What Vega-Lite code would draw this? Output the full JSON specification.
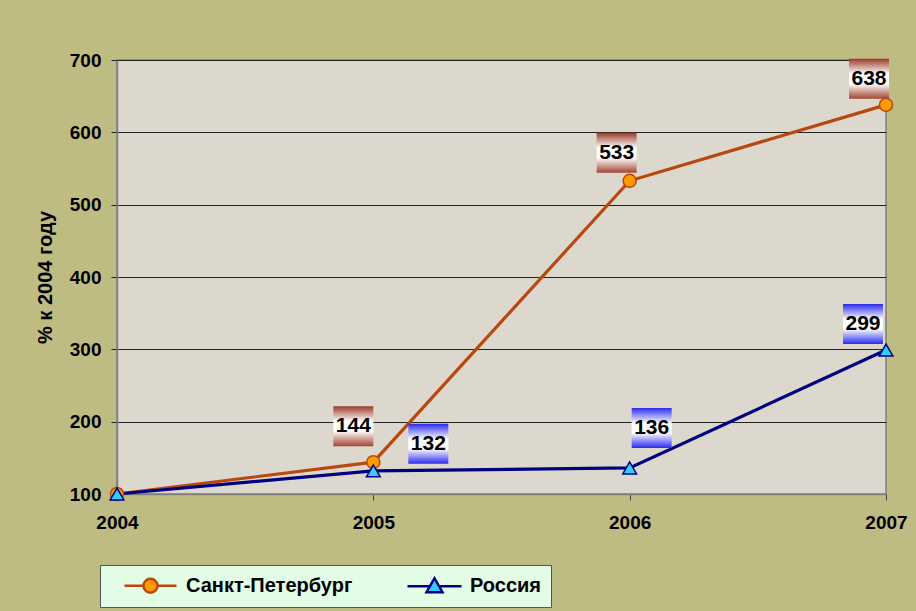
{
  "$schema": "https://vega.github.io/schema/vega-lite/v6.json",
  "width": 769,
  "height": 434,
  "autosize": {"type": "none"},
  "padding": {"left": 117, "top": 60, "right": 30, "bottom": 117},
  "background": "#bfbc83",
  "config": {
    "font": "Liberation Sans",
    "view": {"fill": "#ddd8cd", "stroke": "#7f7f7f", "strokeWidth": 1.5},
    "legend": {
      "orient": "none",
      "legendX": -17,
      "legendY": 505,
      "direction": "horizontal",
      "symbolSize": 400,
      "symbolOffset": 30,
      "labelOffset": 24,
      "labelFontSize": 20,
      "labelFontWeight": "bold",
      "labelColor": "#000000",
      "labelLimit": 400,
      "columnPadding": 40,
      "padding": 9,
      "fillColor": "#e2fce5",
      "strokeColor": "#555555",
      "symbolStrokeWidth": 2.5
    }
  },
  "data": {
    "values": [
      {"series": "Санкт-Петербург", "year": 2004, "value": 100},
      {"series": "Санкт-Петербург", "year": 2005, "value": 144},
      {"series": "Санкт-Петербург", "year": 2006, "value": 533},
      {"series": "Санкт-Петербург", "year": 2007, "value": 638},
      {"series": "Россия", "year": 2004, "value": 100},
      {"series": "Россия", "year": 2005, "value": 132},
      {"series": "Россия", "year": 2006, "value": 136},
      {"series": "Россия", "year": 2007, "value": 299}
    ]
  },
  "encoding": {
    "x": {
      "field": "year",
      "type": "quantitative",
      "scale": {"domain": [2004, 2007], "nice": false, "zero": false},
      "axis": {
        "values": [2004, 2005, 2006, 2007],
        "format": "d",
        "title": null,
        "grid": false,
        "labelFlush": false,
        "labelFontSize": 19,
        "labelFontWeight": "bold",
        "labelColor": "#000000",
        "labelPadding": 13,
        "tickSize": 6,
        "tickColor": "#444444",
        "domainColor": "#7f7f7f",
        "domainWidth": 1.5
      }
    },
    "y": {
      "field": "value",
      "type": "quantitative",
      "scale": {"domain": [100, 700], "nice": false, "zero": false},
      "axis": {
        "values": [100, 200, 300, 400, 500, 600, 700],
        "title": "% к 2004 году",
        "titleFontSize": 20,
        "titleFontWeight": "bold",
        "titleColor": "#000000",
        "titlePadding": 14,
        "labelFontSize": 19,
        "labelFontWeight": "bold",
        "labelColor": "#000000",
        "labelPadding": 10,
        "tickSize": 6,
        "tickColor": "#222222",
        "gridColor": "#222222",
        "gridWidth": 1,
        "gridOpacity": 1,
        "domainColor": "#7f7f7f",
        "domainWidth": 1.5
      }
    }
  },
  "layer": [
    {
      "mark": {"type": "line", "strokeWidth": 3.2},
      "encoding": {
        "stroke": {
          "field": "series",
          "type": "nominal",
          "scale": {"domain": ["Санкт-Петербург", "Россия"], "range": ["#b8480f", "#000080"]},
          "legend": {"title": null, "symbolType": {"expr": "datum.value === 'Россия' ? 'M-2.7,0H-0.45M0.45,0H2.7M0,-0.8L0.8,0.6L-0.8,0.6Z' : 'M-2.6,0H-0.7M0.7,0H2.6M-0.7,0A0.7,0.7,0,1,0,0.7,0A0.7,0.7,0,1,0,-0.7,0Z'"}}
        }
      }
    },
    {
      "transform": [{"filter": "datum.series === 'Санкт-Петербург'"}],
      "mark": {"type": "point", "shape": "circle", "filled": true, "size": 170, "strokeWidth": 1.5, "opacity": 1},
      "encoding": {
        "fill": {
          "field": "series",
          "type": "nominal",
          "scale": {"domain": ["Санкт-Петербург", "Россия"], "range": ["#ff9a00", "#33ccff"]},
          "legend": {"title": null, "symbolType": {"expr": "datum.value === 'Россия' ? 'M-2.7,0H-0.45M0.45,0H2.7M0,-0.8L0.8,0.6L-0.8,0.6Z' : 'M-2.6,0H-0.7M0.7,0H2.6M-0.7,0A0.7,0.7,0,1,0,0.7,0A0.7,0.7,0,1,0,-0.7,0Z'"}}
        },
        "stroke": {
          "field": "series",
          "type": "nominal",
          "scale": {"domain": ["Санкт-Петербург", "Россия"], "range": ["#b8480f", "#000080"]},
          "legend": {"title": null, "symbolType": {"expr": "datum.value === 'Россия' ? 'M-2.7,0H-0.45M0.45,0H2.7M0,-0.8L0.8,0.6L-0.8,0.6Z' : 'M-2.6,0H-0.7M0.7,0H2.6M-0.7,0A0.7,0.7,0,1,0,0.7,0A0.7,0.7,0,1,0,-0.7,0Z'"}}
        }
      }
    },
    {
      "transform": [{"filter": "datum.series === 'Россия'"}],
      "mark": {"type": "point", "shape": "triangle-up", "filled": true, "size": 190, "strokeWidth": 1.5, "opacity": 1},
      "encoding": {
        "fill": {
          "field": "series",
          "type": "nominal",
          "scale": {"domain": ["Санкт-Петербург", "Россия"], "range": ["#ff9a00", "#33ccff"]},
          "legend": {"title": null, "symbolType": {"expr": "datum.value === 'Россия' ? 'M-2.7,0H-0.45M0.45,0H2.7M0,-0.8L0.8,0.6L-0.8,0.6Z' : 'M-2.6,0H-0.7M0.7,0H2.6M-0.7,0A0.7,0.7,0,1,0,0.7,0A0.7,0.7,0,1,0,-0.7,0Z'"}}
        },
        "stroke": {
          "field": "series",
          "type": "nominal",
          "scale": {"domain": ["Санкт-Петербург", "Россия"], "range": ["#b8480f", "#000080"]},
          "legend": {"title": null, "symbolType": {"expr": "datum.value === 'Россия' ? 'M-2.7,0H-0.45M0.45,0H2.7M0,-0.8L0.8,0.6L-0.8,0.6Z' : 'M-2.6,0H-0.7M0.7,0H2.6M-0.7,0A0.7,0.7,0,1,0,0.7,0A0.7,0.7,0,1,0,-0.7,0Z'"}}
        }
      }
    },
    {
      "transform": [{"filter": "datum.series === 'Санкт-Петербург' && datum.year === 2005"}],
      "layer": [
        {"mark": {"type": "square", "size": 1600, "xOffset": -20, "yOffset": -36, "opacity": 1, "strokeWidth": 0, "fill": {"gradient": "linear", "x1": 0, "y1": 0, "x2": 0, "y2": 1, "stops": [{"offset": 0, "color": "#9a3a28"}, {"offset": 0.38, "color": "#ffffff"}, {"offset": 0.62, "color": "#ffffff"}, {"offset": 1, "color": "#a0452f"}]}}},
        {"mark": {"type": "text", "xOffset": -20, "yOffset": -36, "fontSize": 21, "fontWeight": "bold", "color": "#000000", "baseline": "middle", "align": "center"}, "encoding": {"text": {"field": "value"}}}
      ]
    },
    {
      "transform": [{"filter": "datum.series === 'Санкт-Петербург' && datum.year === 2006"}],
      "layer": [
        {"mark": {"type": "square", "size": 1600, "xOffset": -13, "yOffset": -28, "opacity": 1, "strokeWidth": 0, "fill": {"gradient": "linear", "x1": 0, "y1": 0, "x2": 0, "y2": 1, "stops": [{"offset": 0, "color": "#9a3a28"}, {"offset": 0.38, "color": "#ffffff"}, {"offset": 0.62, "color": "#ffffff"}, {"offset": 1, "color": "#a0452f"}]}}},
        {"mark": {"type": "text", "xOffset": -13, "yOffset": -28, "fontSize": 21, "fontWeight": "bold", "color": "#000000", "baseline": "middle", "align": "center"}, "encoding": {"text": {"field": "value"}}}
      ]
    },
    {
      "transform": [{"filter": "datum.series === 'Санкт-Петербург' && datum.year === 2007"}],
      "layer": [
        {"mark": {"type": "square", "size": 1600, "xOffset": -17, "yOffset": -26, "opacity": 1, "strokeWidth": 0, "fill": {"gradient": "linear", "x1": 0, "y1": 0, "x2": 0, "y2": 1, "stops": [{"offset": 0, "color": "#9a3a28"}, {"offset": 0.38, "color": "#ffffff"}, {"offset": 0.62, "color": "#ffffff"}, {"offset": 1, "color": "#a0452f"}]}}},
        {"mark": {"type": "text", "xOffset": -17, "yOffset": -26, "fontSize": 21, "fontWeight": "bold", "color": "#000000", "baseline": "middle", "align": "center"}, "encoding": {"text": {"field": "value"}}}
      ]
    },
    {
      "transform": [{"filter": "datum.series === 'Россия' && datum.year === 2005"}],
      "layer": [
        {"mark": {"type": "square", "size": 1600, "xOffset": 55, "yOffset": -27, "opacity": 1, "strokeWidth": 0, "fill": {"gradient": "linear", "x1": 0, "y1": 0, "x2": 0, "y2": 1, "stops": [{"offset": 0, "color": "#2a2aee"}, {"offset": 0.38, "color": "#ffffff"}, {"offset": 0.62, "color": "#ffffff"}, {"offset": 1, "color": "#2a2aee"}]}}},
        {"mark": {"type": "text", "xOffset": 55, "yOffset": -27, "fontSize": 21, "fontWeight": "bold", "color": "#000000", "baseline": "middle", "align": "center"}, "encoding": {"text": {"field": "value"}}}
      ]
    },
    {
      "transform": [{"filter": "datum.series === 'Россия' && datum.year === 2006"}],
      "layer": [
        {"mark": {"type": "square", "size": 1600, "xOffset": 22, "yOffset": -40, "opacity": 1, "strokeWidth": 0, "fill": {"gradient": "linear", "x1": 0, "y1": 0, "x2": 0, "y2": 1, "stops": [{"offset": 0, "color": "#2a2aee"}, {"offset": 0.38, "color": "#ffffff"}, {"offset": 0.62, "color": "#ffffff"}, {"offset": 1, "color": "#2a2aee"}]}}},
        {"mark": {"type": "text", "xOffset": 22, "yOffset": -40, "fontSize": 21, "fontWeight": "bold", "color": "#000000", "baseline": "middle", "align": "center"}, "encoding": {"text": {"field": "value"}}}
      ]
    },
    {
      "transform": [{"filter": "datum.series === 'Россия' && datum.year === 2007"}],
      "layer": [
        {"mark": {"type": "square", "size": 1600, "xOffset": -23, "yOffset": -26, "opacity": 1, "strokeWidth": 0, "fill": {"gradient": "linear", "x1": 0, "y1": 0, "x2": 0, "y2": 1, "stops": [{"offset": 0, "color": "#2a2aee"}, {"offset": 0.38, "color": "#ffffff"}, {"offset": 0.62, "color": "#ffffff"}, {"offset": 1, "color": "#2a2aee"}]}}},
        {"mark": {"type": "text", "xOffset": -23, "yOffset": -26, "fontSize": 21, "fontWeight": "bold", "color": "#000000", "baseline": "middle", "align": "center"}, "encoding": {"text": {"field": "value"}}}
      ]
    }
  ]
}
